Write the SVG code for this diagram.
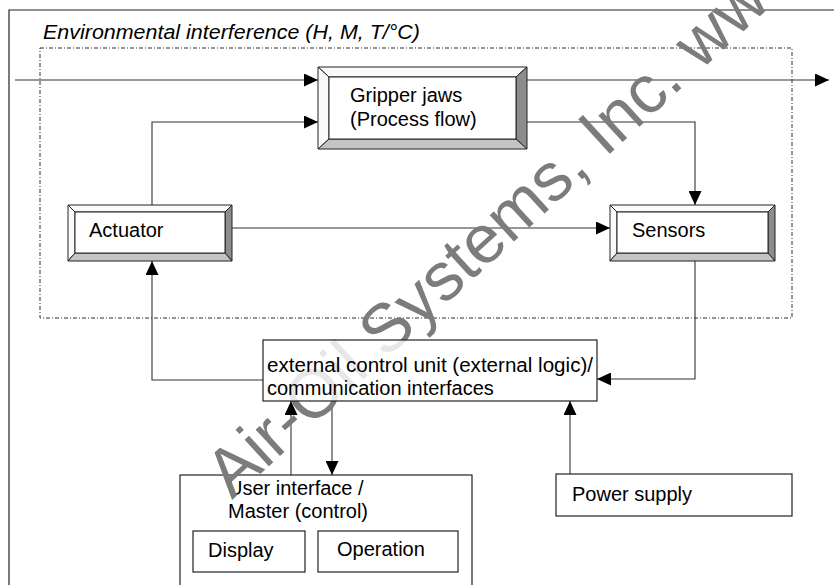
<svg xmlns="http://www.w3.org/2000/svg" width="834" height="585" viewBox="0 0 834 585">
  <defs>
    <marker id="arrow" markerUnits="userSpaceOnUse" markerWidth="14" markerHeight="13" refX="14" refY="6.5" orient="auto">
      <path d="M0,0 L14,6.5 L0,13 Z" fill="#000"/>
    </marker>
  </defs>
  <style>
    text { font-family: "Liberation Sans", Arial, sans-serif; font-size: 20px; fill: #000; }
    .frame { fill: none; stroke: #222; stroke-width: 1.2; }
    .zone { fill: none; stroke: #333; stroke-width: 1; stroke-dasharray: 4 2 1 2; }
    .box { fill: #fff; stroke: #222; stroke-width: 1.2; }
    .bevel-hi { fill: #fafafa; stroke: #222; stroke-width: 1; stroke-linejoin: round; }
    .bevel-lo { fill: #c4c4c4; stroke: #222; stroke-width: 1; stroke-linejoin: round; }
    .bevel-dk { fill: #8c8c8c; stroke: #222; stroke-width: 1; stroke-linejoin: round; }
    .face { fill: #fff; stroke: #222; stroke-width: 1; }
    .conn { fill: none; stroke: #333; stroke-width: 1.1; marker-end: url(#arrow); }
    .mark { font-size: 68px; fill: #7c7c7c; }
  </style>

  <rect width="834" height="585" fill="#fff"/>

  <!-- outer frame (continues past right and bottom edges) -->
  <path class="frame" d="M9,585 V10 H834"/>

  <!-- environmental interference zone -->
  <g id="environment">
    <rect class="zone" x="40" y="48" width="752" height="270"/>
    <text x="43" y="39" font-style="italic" font-size="21" textLength="377" lengthAdjust="spacingAndGlyphs">Environmental interference (H, M, T/°C)</text>
  </g>

  <!-- connectors -->
  <g id="connectors">
    <path class="conn" d="M15,80 H318"/>
    <path class="conn" d="M527,80 H829"/>
    <path class="conn" d="M152,205 V122 H318"/>
    <path class="conn" d="M527,122 H695 V205"/>
    <path class="conn" d="M232,228 H610"/>
    <path class="conn" d="M695,261 V379 H597"/>
    <path class="conn" d="M263,380 H152 V261"/>
    <path class="conn" d="M291,475 V401"/>
    <path class="conn" d="M332,401 V475"/>
    <path class="conn" d="M570,474 V401"/>
  </g>

  <!-- bevelled process nodes -->
  <g id="gripper">
    <polygon class="bevel-hi" points="318,67 527,67 516,77 329,77"/>
    <polygon class="bevel-hi" points="318,67 329,77 329,139 318,149"/>
    <polygon class="bevel-dk" points="527,67 527,149 516,139 516,77"/>
    <polygon class="bevel-lo" points="318,149 329,139 516,139 527,149"/>
    <rect class="face" x="329" y="77" width="187" height="62"/>
    <text x="350" y="102">Gripper jaws</text>
    <text x="350" y="126">(Process flow)</text>
  </g>

  <g id="actuator">
    <polygon class="bevel-hi" points="68,205 232,205 225,212 75,212"/>
    <polygon class="bevel-hi" points="68,205 75,212 75,253 68,261"/>
    <polygon class="bevel-dk" points="232,205 232,261 225,253 225,212"/>
    <polygon class="bevel-lo" points="68,261 75,253 225,253 232,261"/>
    <rect class="face" x="75" y="212" width="150" height="41"/>
    <text x="89" y="237">Actuator</text>
  </g>

  <g id="sensors">
    <polygon class="bevel-hi" points="610,205 775,205 768,212 617,212"/>
    <polygon class="bevel-hi" points="610,205 617,212 617,253 610,261"/>
    <polygon class="bevel-dk" points="775,205 775,261 768,253 768,212"/>
    <polygon class="bevel-lo" points="610,261 617,253 768,253 775,261"/>
    <rect class="face" x="617" y="212" width="151" height="41"/>
    <text x="632" y="237">Sensors</text>
  </g>

  <g id="user-interface">
    <rect class="box" x="180" y="475" width="292" height="120"/>
    <text x="228" y="495">User interface /</text>
    <text x="228" y="518">Master (control)</text>
  </g>

  <g id="display">
    <rect class="box" x="193" y="531" width="112" height="41"/>
    <text x="208" y="557">Display</text>
  </g>

  <g id="operation">
    <rect class="box" x="318" y="531" width="140" height="41"/>
    <text x="337" y="556">Operation</text>
  </g>

  <g id="power-supply">
    <rect class="box" x="556" y="474" width="236" height="42"/>
    <text x="572" y="501">Power supply</text>
  </g>

  <g id="watermark">
    <text class="mark" transform="translate(232,500) rotate(-42.5)">Air-Oil Systems, Inc. www</text>
  </g>

  <!-- control unit sits over the watermark, letting it show through faintly -->
  <g id="control-unit">
    <rect class="box" x="263" y="340" width="334" height="61" fill-opacity="0.82"/>
    <text x="267" y="372" textLength="326" lengthAdjust="spacingAndGlyphs">external control unit (external logic)/</text>
    <text x="267" y="395">communication interfaces</text>
  </g>
</svg>
